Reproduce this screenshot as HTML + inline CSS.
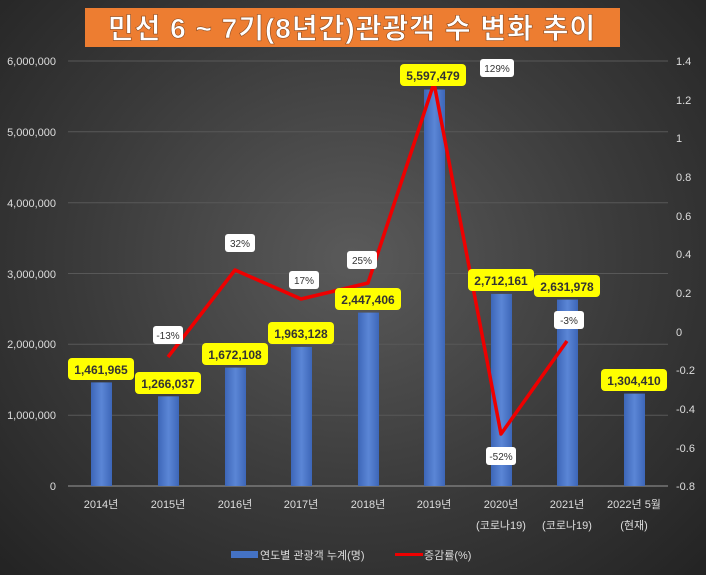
<!DOCTYPE html>
<html><head><meta charset="utf-8"><style>
body{margin:0;width:706px;height:575px;overflow:hidden;background:radial-gradient(ellipse at 50% 45%,#5a5a5a 0%,#3a3a3a 55%,#232323 100%);font-family:"Liberation Sans","Noto Sans CJK KR",sans-serif}
</style></head><body>
<svg width="706" height="575" xmlns="http://www.w3.org/2000/svg" style="position:absolute;left:0;top:0;font-family:'Liberation Sans','Noto Sans CJK KR',sans-serif">
<defs><linearGradient id="bg" x1="0" x2="1"><stop offset="0" stop-color="#3d66b8"/><stop offset="0.5" stop-color="#5b86d6"/><stop offset="1" stop-color="#3d66b8"/></linearGradient></defs>
<rect x="85" y="8" width="535" height="39" fill="#ED7D31"/>
<text x="352" y="38" text-anchor="middle" font-size="28" font-weight="bold" fill="#fff" stroke="#8a4a20" stroke-width="0.6" letter-spacing="1">민선 6 ~ 7기(8년간)관광객 수 변화 추이</text>
<g stroke="#585858" stroke-width="1">
<line x1="68" x2="668" y1="61" y2="61"/><line x1="68" x2="668" y1="131.8" y2="131.8"/><line x1="68" x2="668" y1="202.7" y2="202.7"/><line x1="68" x2="668" y1="273.5" y2="273.5"/><line x1="68" x2="668" y1="344.3" y2="344.3"/><line x1="68" x2="668" y1="415.2" y2="415.2"/>
</g>
<line x1="68" x2="668" y1="486" y2="486" stroke="#999"/>
<g font-size="11" fill="#ddd" text-anchor="end">
<text x="56" y="65">6,000,000</text><text x="56" y="136">5,000,000</text><text x="56" y="207">4,000,000</text><text x="56" y="278">3,000,000</text><text x="56" y="348">2,000,000</text><text x="56" y="419">1,000,000</text><text x="56" y="490">0</text>
</g>
<g font-size="11" fill="#ddd">
<text x="676" y="65">1.4</text><text x="676" y="104">1.2</text><text x="676" y="142">1</text><text x="676" y="181">0.8</text><text x="676" y="220">0.6</text><text x="676" y="258">0.4</text><text x="676" y="297">0.2</text><text x="676" y="336">0</text><text x="676" y="374">-0.2</text><text x="676" y="413">-0.4</text><text x="676" y="452">-0.6</text><text x="676" y="490">-0.8</text>
</g>
<g fill="url(#bg)">
<rect x="91" y="382.4" width="21" height="103.6"/>
<rect x="158" y="396.3" width="21" height="89.7"/>
<rect x="225" y="367.6" width="21" height="118.4"/>
<rect x="291" y="346.9" width="21" height="139.1"/>
<rect x="358" y="312.6" width="21" height="173.4"/>
<rect x="424" y="89.5" width="21" height="396.5"/>
<rect x="491" y="293.9" width="21" height="192.1"/>
<rect x="557" y="299.6" width="21" height="186.4"/>
<rect x="624" y="393.6" width="21" height="92.4"/>
</g>
<polyline fill="none" stroke="#e00" stroke-width="3.5" stroke-linejoin="round" points="168,357 235,270 301,299 368,283 434,83 501,434 567,341"/>
<g font-size="11" fill="#ddd" text-anchor="middle">
<text x="101" y="508">2014년</text><text x="168" y="508">2015년</text><text x="235" y="508">2016년</text><text x="301" y="508">2017년</text><text x="368" y="508">2018년</text><text x="434" y="508">2019년</text><text x="501" y="508">2020년</text><text x="567" y="508">2021년</text><text x="634" y="508">2022년 5월</text>
<text x="501" y="529">(코로나19)</text><text x="567" y="529">(코로나19)</text><text x="634" y="529">(현재)</text>
</g>
<g font-size="12" font-weight="bold" fill="#333" text-anchor="middle">
<rect x="68" y="358" width="66" height="22" rx="4" fill="#ffff00"/><text x="101" y="374">1,461,965</text>
<rect x="135" y="372" width="66" height="22" rx="4" fill="#ffff00"/><text x="168" y="388">1,266,037</text>
<rect x="202" y="343" width="66" height="22" rx="4" fill="#ffff00"/><text x="235" y="359">1,672,108</text>
<rect x="268" y="322" width="66" height="22" rx="4" fill="#ffff00"/><text x="301" y="338">1,963,128</text>
<rect x="335" y="288" width="66" height="22" rx="4" fill="#ffff00"/><text x="368" y="304">2,447,406</text>
<rect x="400" y="64" width="66" height="22" rx="4" fill="#ffff00"/><text x="433" y="80">5,597,479</text>
<rect x="468" y="269" width="66" height="22" rx="4" fill="#ffff00"/><text x="501" y="285">2,712,161</text>
<rect x="534" y="275" width="66" height="22" rx="4" fill="#ffff00"/><text x="567" y="291">2,631,978</text>
<rect x="601" y="369" width="66" height="22" rx="4" fill="#ffff00"/><text x="634" y="385">1,304,410</text>
</g>
<g font-size="10" fill="#333" text-anchor="middle">
<rect x="153" y="326" width="30" height="18" rx="3" fill="#fff"/><text x="168" y="339">-13%</text>
<rect x="225" y="234" width="30" height="18" rx="3" fill="#fff"/><text x="240" y="247">32%</text>
<rect x="289" y="271" width="30" height="18" rx="3" fill="#fff"/><text x="304" y="284">17%</text>
<rect x="347" y="251" width="30" height="18" rx="3" fill="#fff"/><text x="362" y="264">25%</text>
<rect x="480" y="59" width="34" height="18" rx="3" fill="#fff"/><text x="497" y="72">129%</text>
<rect x="486" y="447" width="30" height="18" rx="3" fill="#fff"/><text x="501" y="460">-52%</text>
<rect x="554" y="311" width="30" height="18" rx="3" fill="#fff"/><text x="569" y="324">-3%</text>
</g>
<rect x="231" y="551" width="27" height="7" fill="#4472C4"/>
<text x="260" y="559" font-size="11" fill="#ddd">연도별 관광객 누계(명)</text>
<rect x="395" y="553" width="28" height="3" fill="#e00"/>
<text x="424" y="559" font-size="11" fill="#ddd">증감률(%)</text>
</svg>
</body></html>
